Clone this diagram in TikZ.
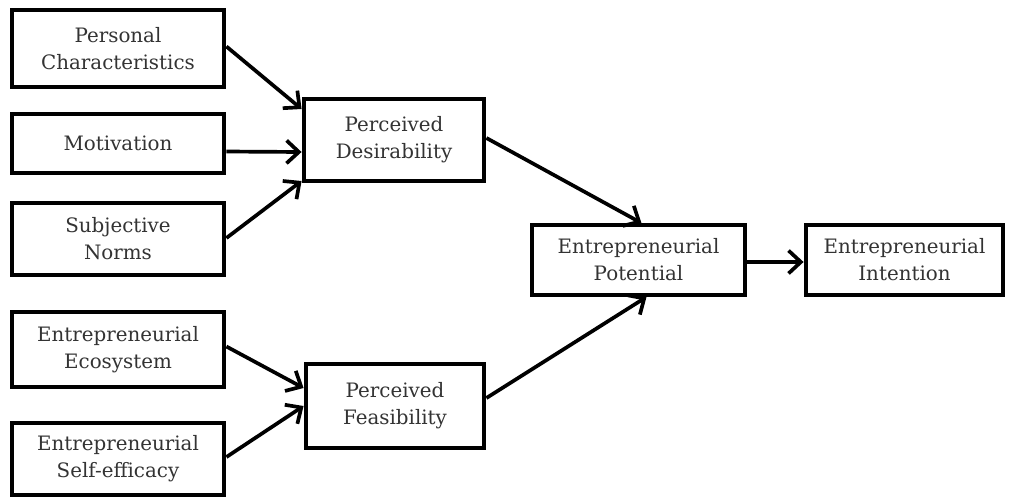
\documentclass[tikz,border=0pt]{standalone}
\usepackage{fontspec}
\setmainfont{DejaVu Serif}
\usetikzlibrary{arrows.meta,calc}

\tikzset{
  box/.style={draw=black, line width=2.5pt, fill=white, align=center,
    inner sep=0pt, text=black!80,
    font=\fontsize{11.3}{15.3}\selectfont},
  link/.style={line width=2.1pt, -{Straight Barb[length=7pt,width=13pt,line width=2.1pt]}},
}

\begin{document}
\begin{tikzpicture}[x=0.02cm, y=-0.02cm]
  \useasboundingbox (0,0) rectangle (1011,498);

  % left column: antecedents
  \node[box, minimum width=4.25cm, minimum height=1.53cm] (pc)  at (118,48.5) {Personal\\Characteristics};
  \node[box, minimum width=4.25cm, minimum height=1.17cm] (mot) at (118,143.5) {Motivation};
  \node[box, minimum width=4.25cm, minimum height=1.43cm] (sn)  at (118,239) {Subjective\\Norms};
  \node[box, minimum width=4.25cm, minimum height=1.49cm] (eco) at (118,349.5) {Entrepreneurial\\Ecosystem};
  \node[box, minimum width=4.25cm, minimum height=1.43cm] (se)  at (118,459) {Entrepreneurial\\Self-efficacy};

  % middle column: perceptions
  \node[box, minimum width=3.61cm, minimum height=1.63cm] (pd) at (394,140) {Perceived\\Desirability};
  \node[box, minimum width=3.57cm, minimum height=1.67cm] (pf) at (395,406) {Perceived\\Feasibility};

  % right column: outcomes
  \node[box, minimum width=4.27cm, minimum height=1.39cm] (ep) at (638.5,260) {Entrepreneurial\\Potential};
  \node[box, minimum width=3.95cm, minimum height=1.39cm] (ei) at (904.5,260) {Entrepreneurial\\Intention};

  % connectors
  \draw[link] ($(pc.east)+(0,-2)$)   -- ($(pd.west)+(0,-31)$);
  \draw[link] ($(mot.east)+(0,8)$)   -- ($(pd.west)+(0,12)$);
  \draw[link] ($(sn.east)+(0,-1)$)   -- ($(pd.west)+(0,41)$);
  \draw[link] ($(eco.east)+(0,-3)$)  -- ($(pf.west)+(0,-18)$);
  \draw[link] ($(se.east)+(0,-2)$)   -- ($(pf.west)+(0,0)$);
  \draw[link] ($(pd.east)+(0,-2)$)   -- ($(ep.north)+(3,0)$);
  \draw[link] ($(pf.east)+(0,-8)$)   -- ($(ep.south)+(8,0)$);
  \draw[link] ($(ep.east)+(0,2)$)    -- ($(ei.west)+(0,2)$);
\end{tikzpicture}
\end{document}
